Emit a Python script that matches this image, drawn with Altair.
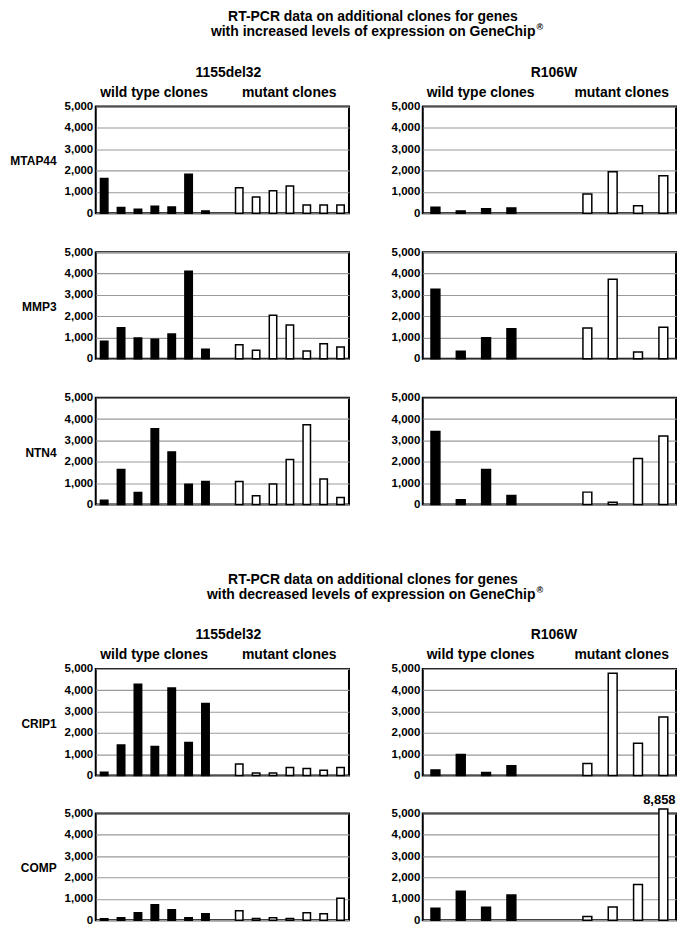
import altair as alt
import pandas as pd

FONT = "Liberation Sans"

# ---------------- data ----------------
title_line1 = "RT-PCR data on additional clones for genes"
title_line2_up = "with increased levels of expression on GeneChip"
title_line2_down = "with decreased levels of expression on GeneChip"
registered = "®"
mutations = ["1155del32", "R106W"]
group_names = ["wild type clones", "mutant clones"]
genes_up = ["MTAP44", "MMP3", "NTN4"]
genes_down = ["CRIP1", "COMP"]
y_ticks = [0, 1000, 2000, 3000, 4000, 5000]

mtap44_del_wt = [1630, 265, 185, 325, 295, 1830, 110]
mtap44_del_mut = [1195, 760, 1055, 1275, 390, 390, 390]
mtap44_r106w_wt = [280, 110, 215, 250]
mtap44_r106w_mut = [900, 1940, 355, 1755]

mmp3_del_wt = [820, 1455, 975, 915, 1160, 4100, 450]
mmp3_del_mut = [665, 400, 2045, 1580, 370, 710, 555]
mmp3_r106w_wt = [3265, 355, 990, 1410]
mmp3_r106w_mut = [1440, 3730, 325, 1485]

ntn4_del_wt = [200, 1640, 555, 3545, 2460, 945, 1070]
ntn4_del_mut = [1070, 400, 960, 2105, 3730, 1190, 325]
ntn4_r106w_wt = [3420, 215, 1640, 420]
ntn4_r106w_mut = [575, 95, 2150, 3205]

crip1_del_wt = [155, 1435, 4280, 1360, 4110, 1545, 3375]
crip1_del_mut = [545, 125, 125, 375, 330, 250, 375]
crip1_r106w_wt = [265, 985, 140, 455]
crip1_r106w_mut = [565, 4795, 1515, 2750]

comp_del_wt = [60, 110, 345, 720, 485, 110, 300]
comp_del_mut = [440, 80, 110, 80, 345, 300, 1030]
comp_r106w_wt = [555, 1360, 605, 1175]
comp_r106w_mut = [170, 620, 1670, 8858]

# ---------------- layout constants ----------------
PW, PH = 254, 107
RIGHT_X = 327          # left edge of the right-hand panels, relative to the left ones
CAP = 5215             # bars taller than the axis poke out slightly above the frame


def panel(wt, mut, n_slots, mut_start, pad_inner, gene=None):
    slots = list(range(len(wt))) + list(range(mut_start, mut_start + len(mut)))
    df = pd.DataFrame({
        "slot": slots,
        "value": list(wt) + list(mut),
        "grp": ["wt"] * len(wt) + ["mut"] * len(mut),
    })
    ax = dict(values=y_ticks, format=",.0f", labelFont=FONT, labelFontSize=11.5,
              labelFontWeight="bold", labelColor="black", labelPadding=3,
              ticks=False, domain=False, grid=True, gridColor="#9a9a9a",
              gridWidth=1.1)
    if gene:
        ax.update(title=gene, titleAngle=0, titleAlign="right",
                  titleBaseline="middle", titleX=-39.7, titleY=PH / 2 + 1,
                  titleFont=FONT, titleFontSize=12, titleFontWeight="bold",
                  titleColor="black")
    else:
        ax["title"] = None
    base = alt.Chart(df).transform_calculate(shown=f"min(datum.value, {CAP})")
    x = alt.X("slot:O", axis=None,
              scale=alt.Scale(domain=list(range(n_slots)), paddingInner=pad_inner,
                              paddingOuter=pad_inner / 2))
    y = alt.Y("shown:Q", axis=alt.Axis(**ax),
              scale=alt.Scale(domain=[0, 5000], nice=False))
    bars = base.mark_bar(stroke="black", strokeWidth=1.5).encode(
        x=x, y=y,
        fill=alt.Fill("grp:N", legend=None,
                      scale=alt.Scale(domain=["wt", "mut"], range=["black", "white"])),
    )
    layers = [bars]
    if max(mut) > 5000:
        lab = base.transform_filter("datum.value > 5000").mark_text(
            baseline="bottom", dy=-2, dx=-4, font=FONT, fontSize=13,
            fontWeight="bold", color="black",
        ).encode(x=x, y=y, text=alt.Text("value:Q", format=","))
        layers.append(lab)
    return alt.layer(*layers).properties(
        width=PW, height=PH,
        view=alt.ViewBackground(stroke="black", strokeWidth=2, fill="white"),
    )


def row(gene, del_wt, del_mut, r_wt, r_mut):
    left = panel(del_wt, del_mut, 15, 8, 0.56, gene)
    right = panel(r_wt, r_mut, 10, 6, 0.65)
    return alt.hconcat(left, right, spacing=40)


def text_layer(s, **kw):
    return alt.Chart(pd.DataFrame({"label": [s]})).mark_text(
        font=FONT, fontWeight="bold", color="black", baseline="middle", **kw
    ).encode(text="label:N")


def header(line2):
    layers = [
        text_layer(title_line1, x=278, y=8, fontSize=14, align="center"),
        text_layer(line2, x=441, y=23, fontSize=14, align="right"),
        text_layer(registered, x=442, y=18, fontSize=9, align="left"),
        text_layer(mutations[0], x=133, y=63.5, fontSize=14, align="center"),
        text_layer(mutations[1], x=RIGHT_X + 132.5, y=63.5, fontSize=14, align="center"),
        text_layer(group_names[0], x=58.5, y=84, fontSize=14, align="center"),
        text_layer(group_names[1], x=194, y=84, fontSize=14, align="center"),
        text_layer(group_names[0], x=RIGHT_X + 59, y=84, fontSize=14, align="center"),
        text_layer(group_names[1], x=RIGHT_X + 200.5, y=84, fontSize=14, align="center"),
    ]
    return alt.layer(*layers).properties(
        width=PW, height=92,
        view=alt.ViewBackground(stroke="transparent", strokeWidth=0),
    )


sec1 = alt.vconcat(
    header(title_line2_up),
    alt.vconcat(
        row(genes_up[0], mtap44_del_wt, mtap44_del_mut, mtap44_r106w_wt, mtap44_r106w_mut),
        row(genes_up[1], mmp3_del_wt, mmp3_del_mut, mmp3_r106w_wt, mmp3_r106w_mut),
        row(genes_up[2], ntn4_del_wt, ntn4_del_mut, ntn4_r106w_wt, ntn4_r106w_mut),
        spacing=25,
    ),
    spacing=-1.5,
)

sec2 = alt.vconcat(
    header(title_line2_down),
    alt.vconcat(
        row(genes_down[0], crip1_del_wt, crip1_del_mut, crip1_r106w_wt, crip1_r106w_mut),
        row(genes_down[1], comp_del_wt, comp_del_mut, comp_r106w_wt, comp_r106w_mut),
        spacing=10,
    ),
    spacing=-1.5,
)

chart = alt.vconcat(sec1, sec2, spacing=61).properties(
    padding={"left": 0, "top": 0, "right": 0, "bottom": 0}, background="white"
).configure_view(stroke="black", strokeWidth=2)

chart.save("out.html", embed_options={"renderer": "svg", "actions": False})
